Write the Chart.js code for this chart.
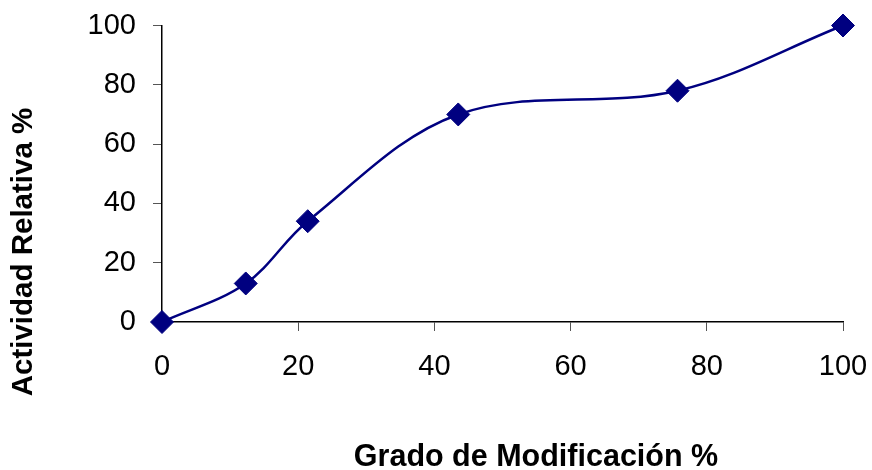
<!DOCTYPE html>
<html>
<head>
<meta charset="utf-8">
<script src="https://cdn.jsdelivr.net/npm/chart.js@4.4.1/dist/chart.umd.min.js"></script>
<style>
  html, body { margin: 0; padding: 0; background: #ffffff; }
  #wrap { width: 872px; height: 470px; position: relative; }
</style>
</head>
<body>
<div id="wrap"><canvas id="chart" width="872" height="470"></canvas></div>
<script>
// Degree of modification (%) vs relative activity (%)
const gradoModificacion = [0, 12.3, 21.4, 43.5, 75.7, 100];
const actividadRelativa = [0, 13, 34, 70, 78, 100];
const xTicks = [0, 20, 40, 60, 80, 100];
const yTicks = [0, 20, 40, 60, 80, 100];
const xTitle = 'Grado de Modificación %';
const yTitle = 'Actividad Relativa %';

const NAVY = '#000080';
const FONT = '"Liberation Sans", Arial, sans-serif';

const points = gradoModificacion.map((x, i) => ({ x: x, y: actividadRelativa[i] }));

// Axis titles placed like a spreadsheet chart: centred on the whole figure
const axisTitles = {
  id: 'axisTitles',
  afterDraw(chart) {
    const ctx = chart.ctx;
    ctx.save();
    ctx.fillStyle = '#000000';
    ctx.textAlign = 'center';
    ctx.textBaseline = 'alphabetic';
    ctx.font = 'bold 30.5px ' + FONT;
    ctx.fillText(xTitle, 536, 466);
    ctx.font = 'bold 29.5px ' + FONT;
    ctx.translate(32, 252);
    ctx.rotate(-Math.PI / 2);
    ctx.fillText(yTitle, 0, 0);
    ctx.restore();
  }
};

new Chart(document.getElementById('chart'), {
  type: 'scatter',
  data: {
    datasets: [{
      data: points,
      showLine: true,
      borderColor: NAVY,
      borderWidth: 2.5,
      tension: 0.35,
      pointStyle: 'rectRot',
      pointRadius: 11.5,
      pointHoverRadius: 11.5,
      pointBackgroundColor: NAVY,
      pointBorderColor: NAVY,
      pointBorderWidth: 1,
      clip: false
    }]
  },
  options: {
    responsive: false,
    animation: false,
    events: [],
    layout: { padding: { top: 25.5, right: 29, left: 0, bottom: 0 } },
    plugins: {
      legend: { display: false },
      tooltip: { enabled: false },
      title: { display: false }
    },
    scales: {
      x: {
        type: 'linear',
        min: 0,
        max: 100,
        afterBuildTicks(scale) { scale.ticks = xTicks.map(v => ({ value: v })); },
        afterFit(scale) {
          scale.height = 148;
          scale.paddingLeft = 0;
          scale.paddingRight = 0;
        },
        grid: { drawOnChartArea: false, drawTicks: true, tickLength: 9, color: '#555555', lineWidth: 1 },
        border: { display: true, color: '#000000', width: 1.5 },
        ticks: { color: '#000000', font: { family: FONT, size: 29 }, padding: 19, maxRotation: 0 }
      },
      y: {
        type: 'linear',
        min: 0,
        max: 100,
        afterBuildTicks(scale) { scale.ticks = yTicks.map(v => ({ value: v })); },
        afterFit(scale) {
          scale.width = 162;
          scale.paddingTop = 0;
          scale.paddingBottom = 0;
        },
        grid: { drawOnChartArea: false, drawTicks: true, tickLength: 9, color: '#555555', lineWidth: 1 },
        border: { display: true, color: '#000000', width: 1.5 },
        ticks: { color: '#000000', font: { family: FONT, size: 29 }, padding: 17 }
      }
    }
  },
  plugins: [axisTitles]
});
</script>
</body>
</html>
